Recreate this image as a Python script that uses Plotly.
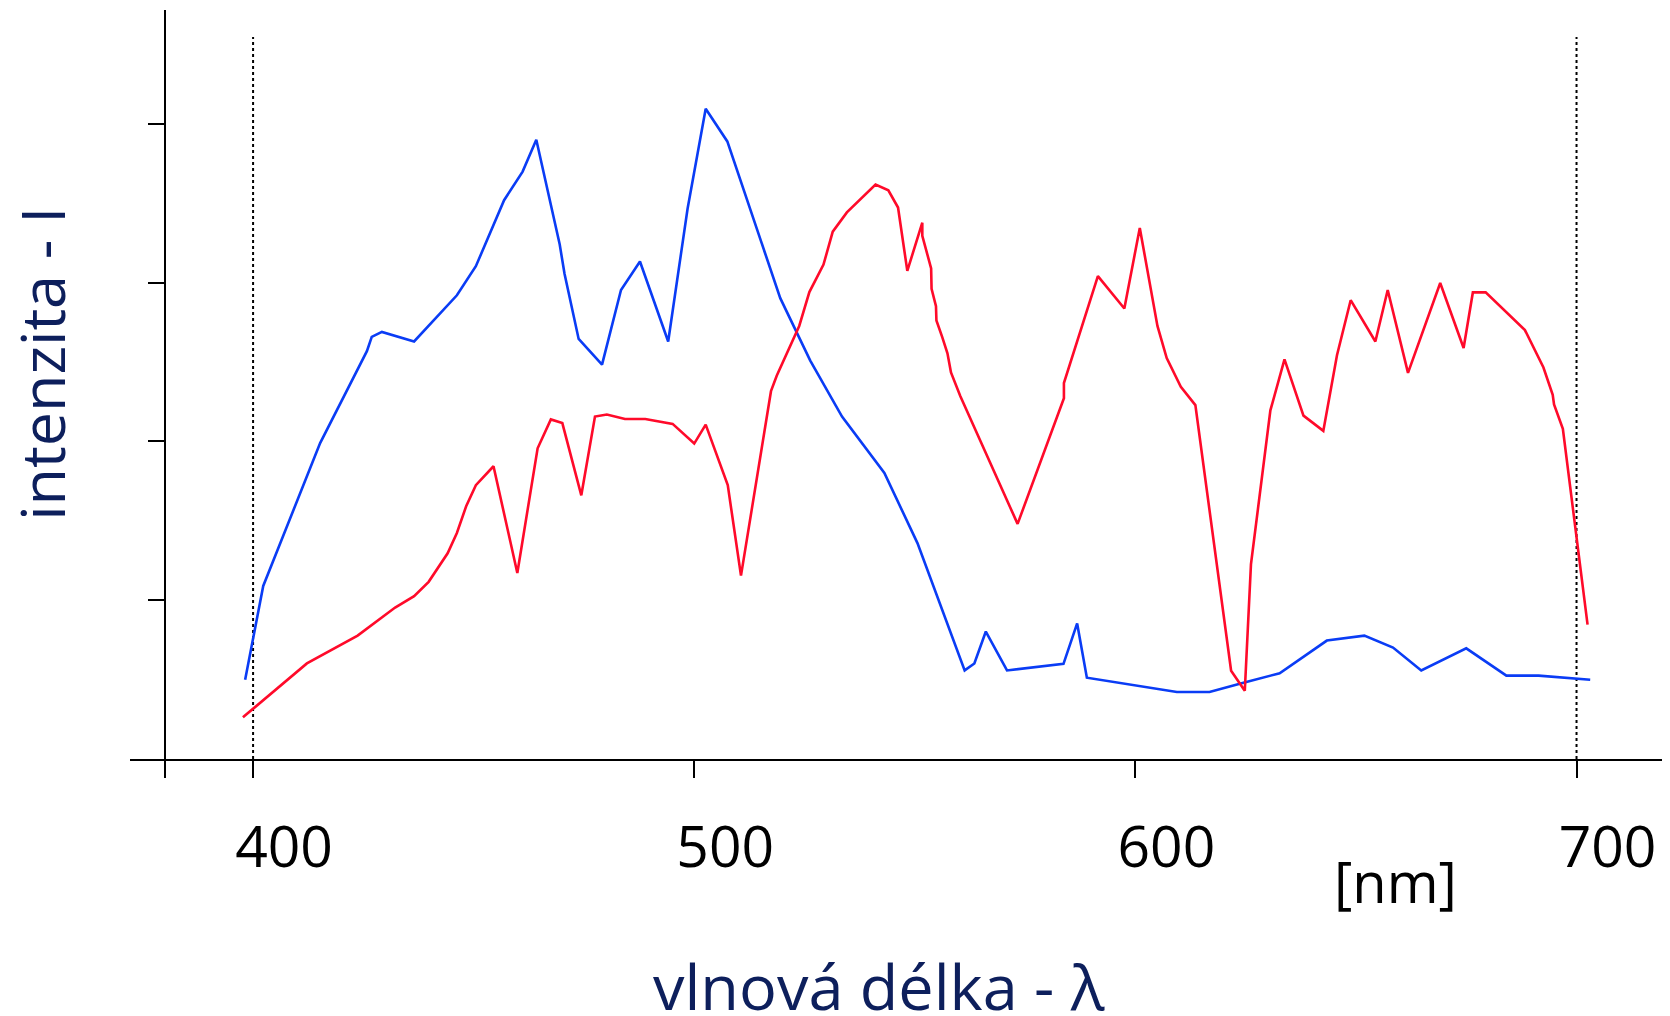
import plotly.graph_objects as go

# ---- data ----
blue_wavelength = [398.2, 402.3, 415.2, 425.8, 426.9, 429.2, 436.5, 446.2, 450.5, 456.9,
                   461.1, 464.2, 469.5, 470.6, 473.8, 479.1, 483.4, 487.7, 494.1, 498.5,
                   502.6, 507.5, 519.5, 526.3, 533.5, 543.1, 550.6, 561.3, 563.5, 566.1,
                   570.9, 583.7, 586.8, 589.0, 609.4, 616.8, 624.5, 632.7, 643.4, 651.9,
                   658.4, 664.8, 675.0, 684.1, 691.4, 703.1]
blue_intensity = [0.499, 1.090, 1.990, 2.569, 2.659, 2.690, 2.630, 2.921, 3.104, 3.520,
                  3.700, 3.901, 3.242, 3.057, 2.646, 2.484, 2.954, 3.134, 2.630, 3.468,
                  4.096, 3.890, 2.903, 2.510, 2.157, 1.802, 1.360, 0.558, 0.602, 0.803,
                  0.558, 0.599, 0.854, 0.512, 0.422, 0.422, 0.481, 0.540, 0.746, 0.777,
                  0.702, 0.558, 0.697, 0.525, 0.525, 0.499]

red_wavelength = [397.7, 412.2, 423.7, 432.2, 436.5, 439.8, 444.1, 446.2, 448.3, 450.5,
                  454.5, 459.9, 464.5, 467.5, 470.1, 474.4, 477.5, 480.2, 484.3, 488.9,
                  495.1, 500.0, 502.6, 507.6, 510.6, 517.4, 518.7, 523.8, 526.1, 529.3,
                  531.4, 534.6, 541.1, 544.0, 546.2, 548.3, 551.7, 551.7, 553.7, 553.8,
                  554.8, 554.9, 556.2, 557.4, 558.2, 560.3, 573.3, 581.4, 583.8, 583.8,
                  591.5, 597.5, 601.0, 605.0, 607.1, 610.3, 613.6, 621.7, 624.8, 626.2,
                  630.6, 633.8, 638.1, 642.6, 645.7, 648.8, 654.4, 657.2, 661.8, 669.1,
                  674.4, 676.5, 679.4, 688.3, 692.5, 694.6, 694.9, 696.9, 702.5]
red_intensity = [0.263, 0.602, 0.777, 0.954, 1.026, 1.116, 1.296, 1.424, 1.592, 1.725,
                 1.844, 1.172, 1.957, 2.139, 2.116, 1.661, 2.157, 2.170, 2.142, 2.142,
                 2.111, 1.987, 2.106, 1.725, 1.155, 2.317, 2.414, 2.728, 2.941, 3.114,
                 3.322, 3.443, 3.618, 3.582, 3.474, 3.075, 3.378, 3.296, 3.090, 2.962,
                 2.852, 2.762, 2.659, 2.556, 2.435, 2.286, 1.481, 2.093, 2.273, 2.368,
                 3.042, 2.838, 3.345, 2.728, 2.525, 2.345, 2.229, 0.556, 0.430, 1.226,
                 2.196, 2.517, 2.163, 2.067, 2.543, 2.890, 2.630, 2.954, 2.432, 2.998,
                 2.589, 2.939, 2.939, 2.702, 2.466, 2.294, 2.234, 2.080, 0.846]

x_tick_values = [380, 400, 500, 600, 700]
x_tick_labels = ["", "400", "500", "600", "700"]
y_tick_values = [1, 2, 3, 4]
reference_wavelengths = [400, 700]
reference_top = 4.548

x_title = "vlnová délka - λ"
y_title = "intenzita - I"
unit_label = "[nm]"

NAVY = "#0d1f5c"
FONT = "Open Sans, Noto Sans, sans-serif"

fig = go.Figure()
fig.add_trace(go.Scatter(x=blue_wavelength, y=blue_intensity, mode="lines",
                         line=dict(color="#0a3cf5", width=2.6), showlegend=False))
fig.add_trace(go.Scatter(x=red_wavelength, y=red_intensity, mode="lines",
                         line=dict(color="#ff0a2a", width=2.6), showlegend=False))

for wl in reference_wavelengths:
    fig.add_shape(type="line", xref="x", yref="y", x0=wl, x1=wl, y0=0, y1=reference_top,
                  line=dict(color="black", width=2, dash="dot"), layer="below")

fig.update_layout(
    width=1662, height=1008,
    margin=dict(l=122, r=7, t=2, b=257),
    paper_bgcolor="white", plot_bgcolor="white",
    font=dict(family=FONT, color="black"),
    xaxis=dict(range=[372.1, 719.6], showgrid=False, zeroline=False,
               showline=True, linecolor="black", linewidth=2.4,
               ticks="outside", ticklen=17, tickwidth=2.4, tickcolor="black",
               tickvals=x_tick_values, ticktext=x_tick_labels,
               tickfont=dict(size=57, color="black", family=FONT),
               ticklabelshift=31, ticklabelstandoff=20, automargin=False),
    yaxis=dict(range=[0, 4.718], showgrid=False, zeroline=False,
               anchor="free", position=(380 - 372.1) / (719.6 - 372.1),
               showline=True, linecolor="black", linewidth=2.4,
               ticks="outside", ticklen=16, tickwidth=2.4, tickcolor="black",
               tickvals=y_tick_values, showticklabels=False, automargin=False),
    annotations=[
        dict(text=x_title, xref="paper", yref="paper", x=0.4886, y=-0.303,
             xanchor="center", yanchor="middle", showarrow=False,
             font=dict(size=63, color=NAVY, family=FONT)),
        dict(text=y_title, xref="paper", yref="paper", x=-0.0575, y=0.5274,
             xanchor="center", yanchor="middle", textangle=-90, showarrow=False,
             font=dict(size=61, color=NAVY, family=FONT)),
        dict(text=unit_label, xref="paper", yref="paper", x=0.8252, y=-0.163,
             xanchor="center", yanchor="middle", showarrow=False,
             font=dict(size=56, color="black", family=FONT)),
    ],
)

fig.write_html("out.html")
